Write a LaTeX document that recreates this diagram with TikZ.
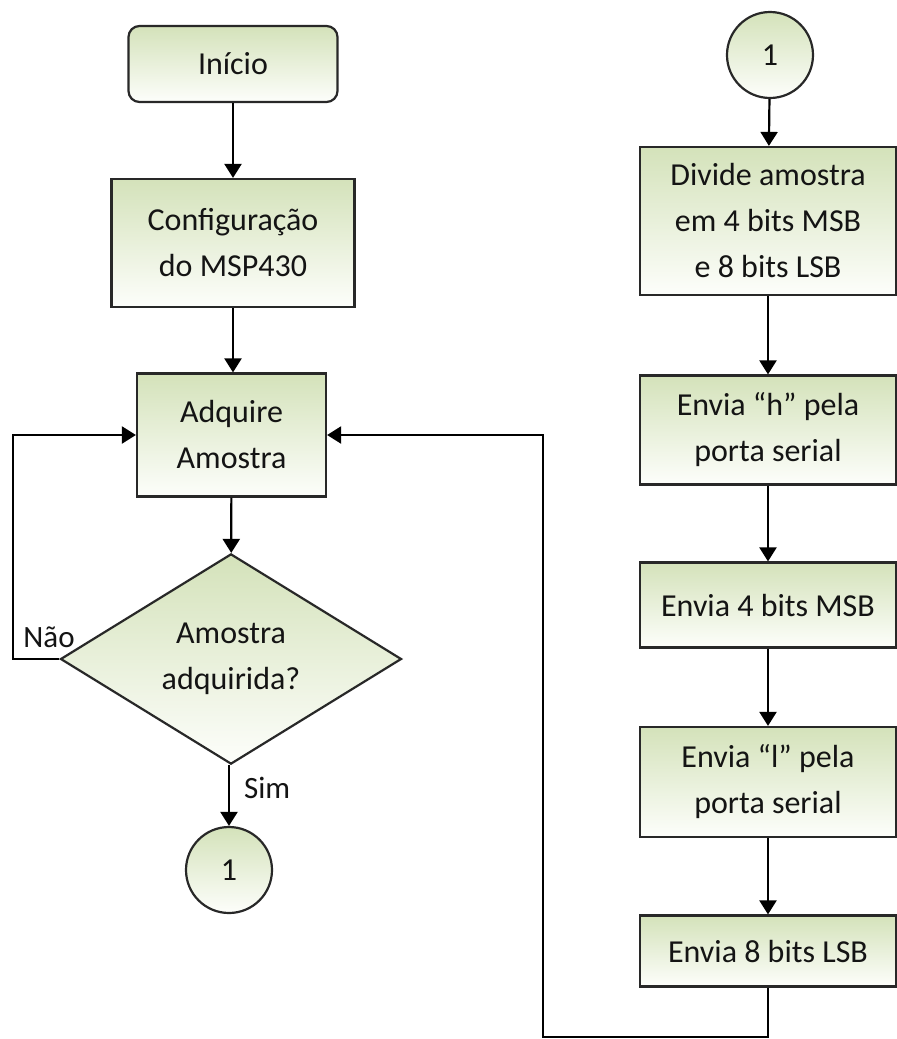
\documentclass[tikz,border=0pt]{standalone}
\usepackage{fontspec}
\setmainfont{Carlito}
\usetikzlibrary{shapes.geometric,arrows.meta}
\definecolor{gtop}{RGB}{212,226,186}
\definecolor{gbot}{RGB}{253,254,251}
\definecolor{bord}{RGB}{40,40,40}
\definecolor{txt}{RGB}{20,20,20}
\tikzset{
  fc/.style={draw=bord, line width=2.2pt, top color=gtop, bottom color=gbot,
    align=center, inner sep=0pt, text=txt,
    font=\fontsize{32}{46}\selectfont},
  procbox/.style={fc, rectangle},
  startbox/.style={fc, rectangle, rounded corners=11pt},
  decbox/.style={fc, diamond},
  conn/.style={fc, circle, minimum size=86pt},
  lbl/.style={text=txt, inner sep=0pt, font=\fontsize{31}{36}\selectfont},
  link/.style={draw=black, line width=2.2pt, -{Triangle[length=14pt,width=17pt]}}
}
\begin{document}
\begin{tikzpicture}[x=1pt,y=-1pt]
\path[use as bounding box, fill=white] (0,0) rectangle (897,1039);
% left column
\node[startbox, minimum width=209pt, minimum height=76pt] (start) at (233,64) {Início};
\node[procbox, minimum width=243pt, minimum height=128pt] (conf) at (233,243) {Configuração\\do MSP430};
\node[procbox, minimum width=189pt, minimum height=123pt] (acq) at (231.5,435) {Adquire\\Amostra};
\node[decbox, minimum width=341pt, minimum height=186pt] (dec) at (231,659) {Amostra\\adquirida?};
\node[conn] (c1) at (229,870) {1};
\node[lbl] (nao) at (49,637) {Não};
% right column
\node[conn] (c2) at (770,55) {1};
\node[procbox, minimum width=256pt, minimum height=148pt] (div) at (768,221) {Divide amostra\\em 4 bits MSB\\e 8 bits LSB};
\node[procbox, minimum width=256pt, minimum height=109pt] (envh) at (768,430) {Envia “h” pela\\porta serial};
\node[procbox, minimum width=256pt, minimum height=85pt] (msb) at (768,605) {Envia 4 bits MSB};
\node[procbox, minimum width=256pt, minimum height=110pt] (envl) at (768,782) {Envia “l” pela\\porta serial};
\node[procbox, minimum width=256pt, minimum height=71pt] (lsb) at (768,951) {Envia 8 bits LSB};
% helper coordinates
\coordinate (lx) at (13,659);
\coordinate (b1) at (768,1037);
\coordinate (b2) at (543,1037);
% connectors
\draw[link] (start) -- (conf);
\draw[link] (conf.south) -- (acq.north -| conf.south);
\draw[link] (acq) -- (dec);
\draw[link] (dec.south -| c1.north) -- node[lbl, pos=0.38, right=14pt] {Sim} (c1.north);
\draw[link] (dec.west) -- (lx) |- (acq.west);
\draw[link] (c2) -- (div);
\draw[link] (div) -- (envh);
\draw[link] (envh) -- (msb);
\draw[link] (msb) -- (envl);
\draw[link] (envl) -- (lsb);
\draw[link] (lsb.south) -- (b1) -- (b2) |- (acq.east);
\end{tikzpicture}
\end{document}
